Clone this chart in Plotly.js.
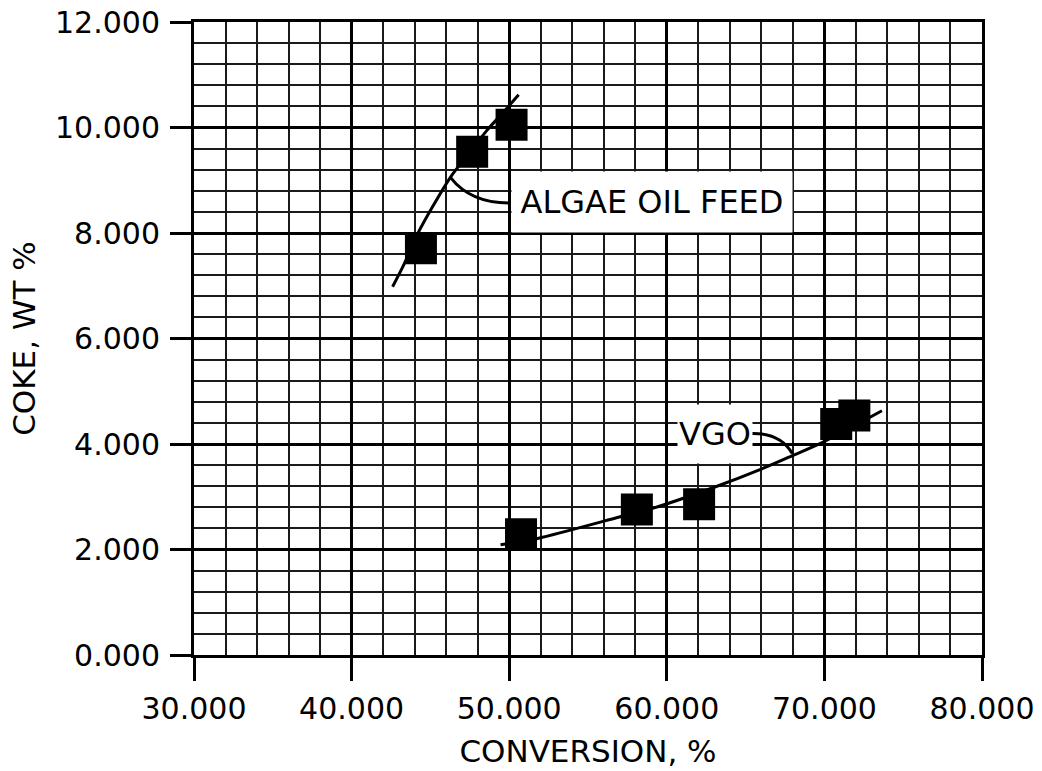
<!DOCTYPE html>
<html>
<head>
<meta charset="utf-8">
<script src="https://cdn.plot.ly/plotly-3.0.1.min.js"></script>
<style>
  html, body { margin: 0; padding: 0; background: #fff; }
  #chart { width: 1042px; height: 771px; }
</style>
</head>
<body>
<div id="chart"></div>
<script>
// Measured runs: conversion (%) vs coke yield (wt %)
const algaeConversion = [44.4, 47.65, 50.15];
const algaeCoke       = [7.71, 9.54, 10.05];
const vgoConversion   = [50.75, 58.1, 62.05, 70.75, 71.9];
const vgoCoke         = [2.29, 2.76, 2.86, 4.38, 4.54];

// Hand-drawn trend curves through each feed's runs
const algaeTrendX = [42.6, 43.3, 44.2, 45.2, 46.3, 47.5, 48.6, 49.6, 50.6];
const algaeTrendY = [6.98, 7.39, 7.99, 8.53, 9.07, 9.53, 9.95, 10.28, 10.62];
const vgoTrendX   = [49.45, 51.8, 57.05, 59.2, 63.1, 65.95, 68.05, 69.75, 73.65];
const vgoTrendY   = [2.09, 2.21, 2.62, 2.79, 3.19, 3.52, 3.79, 4.01, 4.63];

// Axis ticks
const xTicks = [30, 40, 50, 60, 70, 80];
const yTicks = [0, 2, 4, 6, 8, 10, 12];

// Callout labels
const labelAlgae = 'ALGAE OIL FEED';
const labelVgo = 'VGO';

const FONT = 'DejaVu Sans, Verdana, sans-serif';

const trendStyle = { color: '#000', width: 3, shape: 'spline', smoothing: 0.8 };
const markerStyle = { symbol: 'square', size: 32, color: '#000', line: { width: 0 } };

const traces = [
  { x: algaeTrendX, y: algaeTrendY, mode: 'lines', line: trendStyle, hoverinfo: 'skip' },
  { x: vgoTrendX, y: vgoTrendY, mode: 'lines', line: trendStyle, hoverinfo: 'skip' },
  { x: algaeConversion, y: algaeCoke, mode: 'markers', marker: markerStyle },
  { x: vgoConversion, y: vgoCoke, mode: 'markers', marker: markerStyle }
];

// Curved leader from a point on a trend curve to the label's edge
function leader(x0, y0, cx, cy, x1, y1) {
  return {
    type: 'path', xref: 'x', yref: 'y', layer: 'above',
    path: `M ${x0},${y0} Q ${cx},${cy} ${x1},${y1}`,
    line: { color: '#000', width: 3 }
  };
}

const axisCommon = {
  showgrid: true, gridcolor: '#000', gridwidth: 3,
  showline: true, linecolor: '#000', linewidth: 3, mirror: true,
  ticks: 'outside', tickcolor: '#000', tickwidth: 3,
  tickfont: { family: FONT, size: 30, color: '#000' },
  zeroline: false, fixedrange: true
};

const layout = {
  width: 1042, height: 771,
  margin: { l: 194, r: 60, t: 22, b: 116 },
  paper_bgcolor: '#fff', plot_bgcolor: '#fff',
  showlegend: false,
  font: { family: FONT, color: '#000' },
  xaxis: Object.assign({}, axisCommon, {
    range: [30, 80],
    tickvals: xTicks, ticktext: xTicks.map(v => v.toFixed(3)),
    ticklen: 23, ticklabelstandoff: 2,
    minor: { dtick: 2, showgrid: true, gridcolor: '#1a1a1a', gridwidth: 2, ticks: '' },
    title: { text: 'CONVERSION, %', font: { family: FONT, size: 31, color: '#000' }, standoff: 16 }
  }),
  yaxis: Object.assign({}, axisCommon, {
    range: [0, 12],
    tickvals: yTicks, ticktext: yTicks.map(v => v.toFixed(3)),
    ticklen: 21, ticklabelstandoff: 4,
    minor: { dtick: 0.4, showgrid: true, gridcolor: '#1a1a1a', gridwidth: 2, ticks: '' },
    title: { text: 'COKE, WT %', font: { family: FONT, size: 31, color: '#000' }, standoff: 11 }
  }),
  annotations: [
    {
      x: 59.09, y: 8.59, xref: 'x', yref: 'y', text: labelAlgae, showarrow: false,
      bgcolor: '#fff', borderpad: 0, width: 280, height: 60,
      font: { family: FONT, size: 32, color: '#000' }
    },
    {
      x: 63.03, y: 4.19, xref: 'x', yref: 'y', text: labelVgo, showarrow: false,
      bgcolor: '#fff', borderpad: 0, width: 74, height: 58,
      font: { family: FONT, size: 32, color: '#000' }
    }
  ],
  shapes: [
    leader(46.28, 9.05, 47.55, 8.57, 49.96, 8.57),
    leader(67.96, 3.82, 67.2, 4.21, 65.4, 4.2)
  ]
};

Plotly.newPlot('chart', traces, layout, { staticPlot: true, displayModeBar: false });
</script>
</body>
</html>
